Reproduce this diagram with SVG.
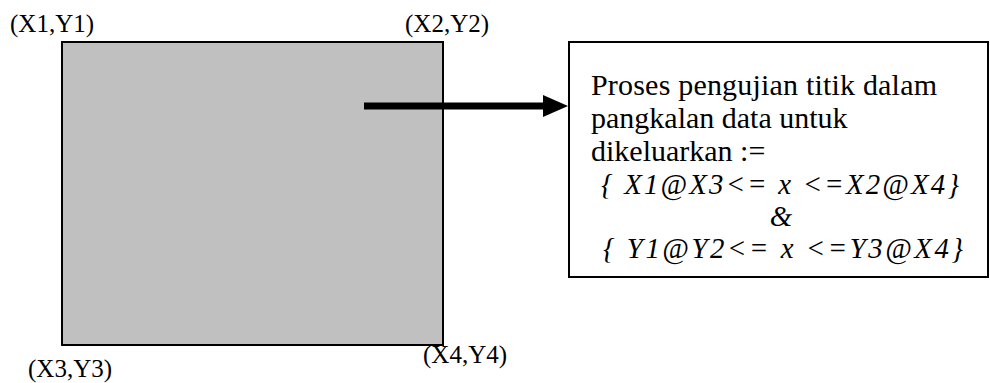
<svg xmlns="http://www.w3.org/2000/svg" width="990" height="383" viewBox="0 0 990 383">
<style>
.lbl{font-family:"Liberation Serif","Times New Roman",serif;font-size:25px;fill:#000}
.txt{font-family:"Liberation Serif","Times New Roman",serif;font-size:30px;fill:#000}
.it{font-style:italic;text-anchor:middle;font-size:28.8px}
</style>
<defs>
<marker id="ah" markerUnits="userSpaceOnUse" markerWidth="26" markerHeight="24" refX="0" refY="11" orient="auto">
<path d="M0,0 L25,11 L0,22 Z" fill="#000"/>
</marker>
</defs>
<rect width="990" height="383" fill="#fff"/>
<g id="area">
<rect x="62" y="42" width="381" height="303" fill="#C0C0C0" stroke="#000" stroke-width="2"/>
<text class="lbl" x="10" y="32">(X1,Y1)</text>
<text class="lbl" x="405" y="32">(X2,Y2)</text>
<text class="lbl" x="28" y="377">(X3,Y3)</text>
<text class="lbl" x="423" y="363">(X4,Y4)</text>
</g>
<g id="process">
<rect x="569" y="42" width="419" height="235" fill="#fff" stroke="#000" stroke-width="2"/>
<text class="txt" x="591" y="95" textLength="346">Proses pengujian titik dalam</text>
<text class="txt" x="591" y="128">pangkalan data untuk</text>
<text class="txt" x="591" y="161">dikeluarkan :=</text>
<text class="txt it" x="780" y="194" textLength="358">{ X1@X3&lt;= x &lt;=X2@X4}</text>
<text class="txt it" x="781" y="226">&amp;</text>
<text class="txt it" x="783" y="258" textLength="360">{ Y1@Y2&lt;= x &lt;=Y3@X4}</text>
</g>
<g id="connectors">
<line x1="364" y1="106" x2="543" y2="106" stroke="#000" stroke-width="7" marker-end="url(#ah)"/>
</g>
</svg>
